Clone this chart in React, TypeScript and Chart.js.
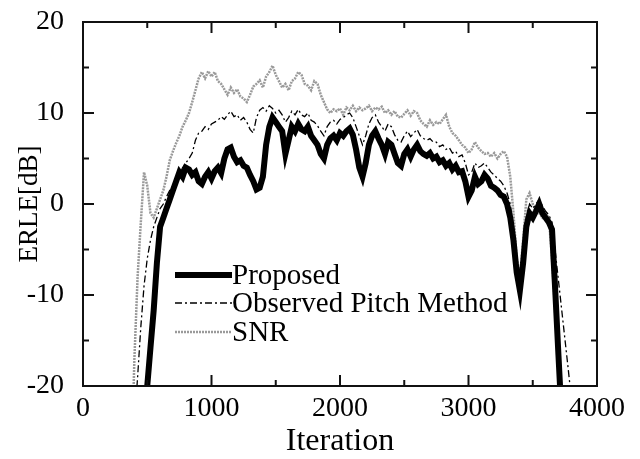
import { useEffect, useRef } from "react";
import { Chart, registerables } from "chart.js";

Chart.register(...registerables);

const ITER_START = 375;
const ITER_STEP = 25;

const proposed = [
  -40, -36, -32, -28, -24, -20, -15.8, -11.7, -6.5, -2.5, -1.5, -0.5,
  0.5, 1.5, 2.5, 3.5, 3, 4, 3.8, 3.2, 3.5, 2.5, 2.2, 3,
  3.5, 2.8, 3.6, 4, 3.4, 5, 6, 6.2, 5.2, 4.6, 4.8, 4.2,
  4, 3.2, 2.5, 1.6, 1.8, 3, 6.5, 8.5, 9.5, 9, 8.5, 8,
  5.5, 7, 8.5, 8, 8.8, 8.2, 8, 8.5, 7.5, 7, 6.5, 5.5,
  5, 6.5, 7.2, 7.5, 7, 7.8, 7.5, 8, 8.3, 7.6, 6, 4,
  3, 4.5, 6.5, 7.5, 8, 7.2, 6.5, 5.5, 6.8, 6.5, 5.5, 4.5,
  4.2, 5.5, 6, 5.2, 6, 6.5, 5.8, 5.5, 5.3, 5.6, 5, 5.2,
  4.6, 4.8, 4.2, 4.5, 3.8, 4.2, 3.5, 3.6, 2.5, 0.8, 1.5, 3,
  2.2, 2.5, 3.2, 2.8, 2, 1.8, 1.5, 1, 0.8, 0, -1.5, -4,
  -7.5, -9.5, -6.5, -2.5, -1, -1.5, -0.8, 0, -1, -1.5, -2, -2.8,
  -9.5, -16.6, -23.5, -30, -36, -40, -40, -40,
];

const observedPitch = [
  -30, -24, -19, -13.5, -9, -6, -4, -2.5, -1.5, -0.5, 0, 0.8,
  1.5, 2, 3, 3.2, 4, 4.5, 5, 5.6, 7, 7.8, 8, 8.5,
  8.2, 8.8, 9, 9.2, 9.6, 9.3, 9.8, 10.2, 9.6, 9.8, 9.2, 9.5,
  9, 8.2, 7.8, 9.5, 10.3, 10.6, 10.2, 10.8, 10.5, 10, 10.3, 9.8,
  9, 9.5, 10.2, 9.8, 10.4, 9.8, 9.6, 10, 9.2, 9, 8.6, 8,
  7.5, 8.5, 9, 9.2, 8.8, 9.3, 9.5, 9.8, 10, 9.5, 8.5, 7.5,
  6.5, 7.5, 8.8, 9.5, 9.8, 9, 8.5, 8, 8.8, 8.5, 7.6, 7,
  6.8, 7.5, 8, 7.4, 7.8, 8.2, 7.5, 7.2, 7, 7.2, 6.8, 6.8,
  6.3, 6.5, 6, 6.2, 5.6, 5.8, 5.2, 5.4, 4.5, 3.2, 3.5, 4.5,
  4, 4.2, 4.5, 4, 3.5, 3.2, 2.8, 2.5, 2, 1.2, 0, -2.5,
  -6, -8.5, -5.5, -1.5, 0, -0.5, 0, 0.5, -0.2, -0.8, -1.2, -2,
  -5.2, -8.4, -11.6, -14.8, -18, -21.3, -24.5, -28,
];

const snr = [
  -30, -17, -8, -2, 3.5, 2, -1, -1.5, -0.5, 0.5, 1.5, 3,
  4.8, 5.8, 6.7, 7.5, 8.5, 9.2, 10, 11.2, 12.5, 13.8, 14.5, 13.8,
  14.6, 14, 14.5, 13.5, 13.2, 12.6, 12, 12.8, 12.2, 12.6, 11.8, 11.6,
  11.2, 12, 12.9, 13.2, 13.6, 12.8, 14, 14.5, 15.2, 14.2, 13.5, 12.8,
  13.2, 12.5, 13.5, 13.8, 14.5, 14.2, 13.2, 13, 12.5, 13.5, 13.2, 12,
  11.2, 10.4, 10, 10.4, 10.2, 10.5, 9.8, 10.6, 10.3, 10.8, 10.2, 10.6,
  10.3, 10.5, 10.8, 10.2, 10.6, 10.4, 10.7, 10, 10.3, 9.8, 10.2, 9.6,
  9.5, 9.9, 10.3, 9.7, 10.2, 10, 9.2, 8.8, 8.5, 9.2, 8.7, 9,
  8.8, 9.3, 9.8, 8.5, 7.8, 7.5, 7, 6.5, 6.2, 5.6, 6, 6.8,
  6.2, 5.8, 5.5, 5.6, 5.2, 5.6, 5, 5.5, 5.8, 5.2, 3, -1,
  -6, -8, -4, 0.5, 1.2, 0, -0.8, -1, -1.5, -1, -1.5, -6,
  -12, -18, -24, -30, -36, -40, -40, -40,
];

const X_MIN = 0;
const X_MAX = 4000;
const X_MAJOR = 1000;
const X_MINOR = 500;
const Y_MIN = -20;
const Y_MAX = 20;
const Y_MAJOR = 10;
const Y_MINOR = 5;

const legendLabels = ["Proposed", "Observed Pitch Method", "SNR"];

const FONT = "'Liberation Serif', 'Times New Roman', serif";

export default function App() {
  const ref = useRef<HTMLCanvasElement>(null);

  useEffect(() => {
    if (!ref.current) return;
    const toPts = (arr: number[]) =>
      arr.map((y, i) => ({ x: ITER_START + i * ITER_STEP, y }));

    const styles = [
      { color: "#000", width: 6, dash: [] as number[] },
      { color: "#000", width: 1.3, dash: [7, 3, 2, 3] },
      { color: "#9a9a9a", width: 2.5, dash: [2, 1] },
    ];

    const framePlugin = {
      id: "frameAndLegend",
      afterDraw(chart: any) {
        const ctx: CanvasRenderingContext2D = chart.ctx;
        const xs = chart.scales.x;
        const ys = chart.scales.y;
        const L = xs.getPixelForValue(X_MIN);
        const R = xs.getPixelForValue(X_MAX);
        const T = ys.getPixelForValue(Y_MAX);
        const B = ys.getPixelForValue(Y_MIN);
        ctx.save();
        ctx.strokeStyle = "#111";
        ctx.setLineDash([]);
        ctx.lineCap = "square";
        const seg = (x1: number, y1: number, x2: number, y2: number) => {
          ctx.beginPath();
          ctx.moveTo(x1, y1);
          ctx.lineTo(x2, y2);
          ctx.stroke();
        };
        ctx.lineWidth = 2;
        seg(L, T, R, T);
        seg(R, T, R, B);
        seg(R, B, L, B);
        seg(L, B, L, T);
        ctx.lineCap = "butt";
        ctx.lineWidth = 2;
        for (let v = X_MIN; v <= X_MAX; v += X_MINOR) {
          const px = xs.getPixelForValue(v);
          const len = v % X_MAJOR === 0 ? 11 : 6;
          seg(px, B, px, B - len);
          seg(px, T, px, T + len);
        }
        for (let v = Y_MIN; v <= Y_MAX; v += Y_MINOR) {
          const py = ys.getPixelForValue(v);
          const len = v % Y_MAJOR === 0 ? 11 : 6;
          seg(L, py, L + len, py);
          seg(R, py, R - len, py);
        }

        const lx1 = L + 92;
        const lx2 = L + 149;
        const rows = [275, 303, 332];
        const base = [284, 312, 341];
        ctx.font = `29px ${FONT}`;
        ctx.textBaseline = "alphabetic";
        ctx.textAlign = "left";
        legendLabels.forEach((lab, i) => {
          const st = styles[i];
          ctx.strokeStyle = st.color;
          ctx.lineWidth = st.width;
          ctx.setLineDash(st.dash);
          seg(lx1, rows[i], lx2, rows[i]);
          ctx.fillStyle = "#000";
          ctx.fillText(lab, lx2, base[i]);
        });
        ctx.restore();
      },
    };

    const zeroPad = (s: any) => {
      s.paddingTop = 0;
      s.paddingBottom = 0;
      s.paddingLeft = 0;
      s.paddingRight = 0;
    };

    const chart = new Chart(ref.current, {
      type: "line",
      data: {
        datasets: [
          {
            label: legendLabels[0],
            data: toPts(proposed),
            borderColor: styles[0].color,
            borderWidth: styles[0].width,
            pointRadius: 0,
            tension: 0,
            clip: 0,
          },
          {
            label: legendLabels[1],
            data: toPts(observedPitch),
            borderColor: styles[1].color,
            borderWidth: styles[1].width,
            borderDash: styles[1].dash,
            pointRadius: 0,
            tension: 0,
            clip: 0,
          },
          {
            label: legendLabels[2],
            data: toPts(snr),
            borderColor: styles[2].color,
            borderWidth: styles[2].width,
            borderDash: styles[2].dash,
            pointRadius: 0,
            tension: 0,
            clip: 0,
          },
        ],
      },
      options: {
        animation: false,
        responsive: false,
        layout: { padding: { top: 22, right: 43, left: 0, bottom: 0 } },
        plugins: {
          legend: { display: false },
          tooltip: { enabled: false },
        },
        scales: {
          x: {
            type: "linear",
            min: X_MIN,
            max: X_MAX,
            afterFit: (s: any) => {
              s.height = 73;
              zeroPad(s);
            },
            grid: { display: false },
            border: { display: false },
            ticks: {
              stepSize: X_MAJOR,
              padding: -2,
              color: "#000",
              maxRotation: 0,
              autoSkip: false,
              font: { family: FONT, size: 28 },
              callback: (v: any) => String(v),
            },
            title: {
              display: true,
              text: "Iteration",
              color: "#000",
              font: { family: FONT, size: 32, lineHeight: 1.1 },
              padding: { top: 0, bottom: 0 },
            },
          },
          y: {
            type: "linear",
            min: Y_MIN,
            max: Y_MAX,
            afterFit: (s: any) => {
              s.width = 83;
              zeroPad(s);
            },
            grid: { display: false },
            border: { display: false },
            ticks: {
              stepSize: Y_MAJOR,
              padding: 11,
              color: "#000",
              font: { family: FONT, size: 28 },
              callback: (v: any) => String(v),
            },
            title: {
              display: true,
              text: "ERLE[dB]",
              color: "#000",
              font: { family: FONT, size: 27, lineHeight: 1.1 },
              padding: { top: 15, bottom: 0 },
            },
          },
        },
      },
      plugins: [framePlugin],
    } as any);

    return () => chart.destroy();
  }, []);

  return (
    <div style={{ position: "fixed", left: 0, top: 0, width: 640, height: 459, background: "#fff" }}>
      <canvas ref={ref} width={640} height={459} style={{ display: "block" }} />
    </div>
  );
}
